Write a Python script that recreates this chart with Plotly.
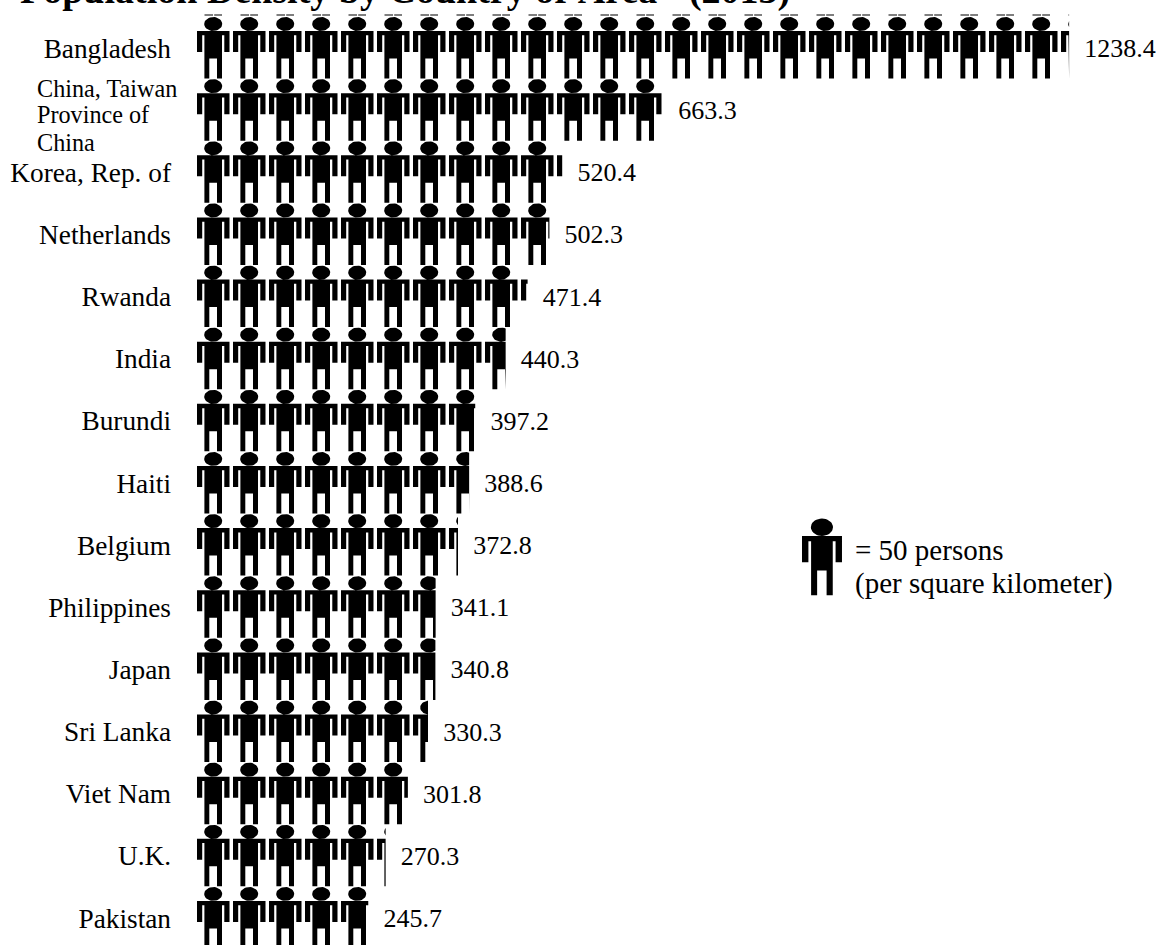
import math
import plotly.graph_objects as go

COUNTRIES = ["Bangladesh", "China, Taiwan Province of China", "Korea, Rep. of", "Netherlands", "Rwanda",
             "India", "Burundi", "Haiti", "Belgium", "Philippines", "Japan", "Sri Lanka", "Viet Nam",
             "U.K.", "Pakistan"]
DENSITY = [1238.4, 663.3, 520.4, 502.3, 471.4, 440.3, 397.2, 388.6, 372.8, 341.1, 340.8, 330.3, 301.8, 270.3, 245.7]
VALUE_LABELS = ["1238.4", "663.3", "520.4", "502.3", "471.4", "440.3", "397.2", "388.6", "372.8", "341.1",
                "340.8", "330.3", "301.8", "270.3", "245.7"]
WRAPPED_LABEL = ["China, Taiwan", "Province of", "China"]
TITLE = "Population Density by Country or Area*\u200a (2013)"
LEGEND_LINES = ["= 50 persons", "(per square kilometer)"]

W, H = 1159, 945
X0_PX, PX_PER_UNIT = 194.8, 0.706
ROW0_PX, ROW_PX = 48.0, 62.14
TILE_PX, TILE_START_PX = 36.0, 197.0
FONT = "Liberation Serif"


def px_x(px):
    return (px - X0_PX) / PX_PER_UNIT


def px_y(px):
    return (px - ROW0_PX) / ROW_PX


# person outline in pixels; origin = left end of the shoulders
BODY = [(0, 21), (0, 0), (32.5, 0), (32.5, 21), (27.3, 21), (27.3, 4.3), (25, 4.3), (25, 47.5), (20, 47.5),
        (20, 27.5), (12.3, 27.5), (12.3, 47.5), (7.4, 47.5), (7.4, 4.3), (5.2, 4.3), (5.2, 21)]
HEAD = [(16.2 + 9 * math.cos(2 * math.pi * k / 36), -7 + 7 * math.sin(2 * math.pi * k / 36)) for k in range(36)]
FOOT_L = [(7.5, -16.5), (16, -16.5), (16, -15.5), (7.5, -15.5)]
FOOT_R = [(17.2, -16.5), (25, -16.5), (25, -15.5), (17.2, -15.5)]


def clip(poly, xmax):
    out = []
    for i, (x1, y1) in enumerate(poly):
        x2, y2 = poly[(i + 1) % len(poly)]
        if x1 <= xmax:
            out.append((x1, y1))
        if (x1 <= xmax) != (x2 <= xmax):
            t = (xmax - x1) / (x2 - x1)
            out.append((xmax, y1 + t * (y2 - y1)))
    return out


def add_poly(xs, ys, pts):
    if len(pts) < 3:
        return
    xs.extend(p[0] for p in pts + pts[:1])
    ys.extend(p[1] for p in pts + pts[:1])
    xs.append(None)
    ys.append(None)


fig = go.Figure()
for r, (name, v) in enumerate(zip(COUNTRIES, DENSITY)):
    xs, ys = [], []
    shoulder_px = ROW0_PX + r * ROW_PX - 17
    n = int(v * PX_PER_UNIT // TILE_PX) + 1
    parts = (BODY, HEAD, FOOT_L, FOOT_R) if r == 0 else (BODY, HEAD)
    for t in range(n):
        left = TILE_START_PX + t * TILE_PX
        for part in parts:
            pts = [(px_x(left + a), px_y(shoulder_px + b)) for a, b in part]
            add_poly(xs, ys, clip(pts, v))
    fig.add_trace(go.Scatter(x=xs, y=ys, mode="lines", fill="toself", fillcolor="black",
                             line=dict(width=0, color="black"), name=name, hoverinfo="name", showlegend=False))

# value labels
fig.add_trace(go.Scatter(
    x=[v + 15.2 / PX_PER_UNIT for v in DENSITY], y=[r + 2.5 / ROW_PX for r in range(len(DENSITY))],
    mode="text", text=VALUE_LABELS, textposition="middle right",
    textfont=dict(family=FONT, size=26, color="black"), hoverinfo="skip", showlegend=False))

# pictogram key
xs, ys = [], []
for part in (BODY, HEAD):
    add_poly(xs, ys, [(px_x(802 + a * 1.23), px_y(536 + b * 1.25)) for a, b in part])
fig.add_trace(go.Scatter(x=xs, y=ys, mode="lines", fill="toself", fillcolor="black",
                         line=dict(width=0, color="black"), hoverinfo="skip", showlegend=False))

annotations = []
for line, cy in zip(WRAPPED_LABEL, [89, 115, 143]):
    annotations.append(dict(text=line, x=34.5 / W, y=1 - cy / H, xref="paper", yref="paper", xanchor="left",
                            yanchor="middle", showarrow=False, font=dict(family=FONT, size=24.2, color="black")))
for line, cy in zip(LEGEND_LINES, [550, 583]):
    annotations.append(dict(text=line, x=853 / W, y=1 - cy / H, xref="paper", yref="paper", xanchor="left",
                            yanchor="middle", showarrow=False, font=dict(family=FONT, size=29, color="black")))

ticks = [(i, c) for i, c in enumerate(COUNTRIES) if i != 1]
fig.update_layout(
    width=W, height=H, margin=dict(l=0, r=0, t=0, b=0, pad=0), paper_bgcolor="white", plot_bgcolor="white",
    title=dict(text="<b>" + TITLE + "</b>", x=20 / W, xanchor="left", y=1 - 3 / H, yanchor="bottom",
               font=dict(family=FONT, size=38, color="black"), pad=dict(l=0, r=0, t=0, b=0)),
    xaxis=dict(range=[px_x(0), px_x(W)], visible=False, domain=[0, 1]),
    yaxis=dict(range=[px_y(H), px_y(0)], anchor="free", position=171 / W, showgrid=False, zeroline=False,
               showline=False, ticks="", tickmode="array", tickvals=[t[0] for t in ticks],
               ticktext=[t[1] for t in ticks], tickfont=dict(family=FONT, size=27.3, color="black")),
    annotations=annotations,
)
fig.write_html("out.html", config=dict(displayModeBar=False),
               post_script="document.body.style.margin='0';document.body.style.overflow='hidden';")
